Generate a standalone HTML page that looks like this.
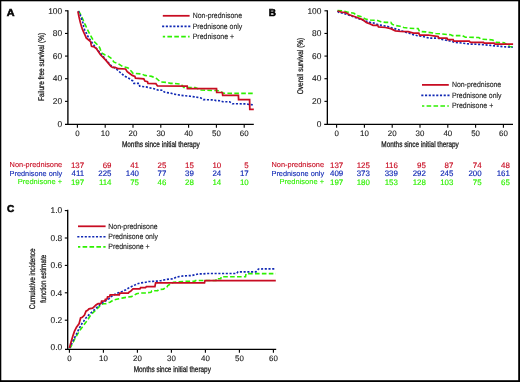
<!DOCTYPE html><html><head><meta charset="utf-8"><style>html,body{margin:0;padding:0;background:#fff;}svg{display:block;will-change:transform;text-rendering:geometricPrecision;}</style></head><body>
<svg width="520" height="382" viewBox="0 0 520 382" font-family='"Liberation Sans", sans-serif'>
<rect x="0" y="0" width="520" height="382" fill="#000"/>
<rect x="1.3" y="1.3" width="516.9" height="378.9" fill="#fff"/>
<text x="6.8" y="15.8" font-size="10" font-weight="bold" fill="#000" stroke="#000" stroke-width="0.55" textLength="7.8" lengthAdjust="spacingAndGlyphs">A</text>
<text x="268.8" y="15.9" font-size="10" font-weight="bold" fill="#000" stroke="#000" stroke-width="0.55">B</text>
<text x="6.9" y="212.4" font-size="10" font-weight="bold" fill="#000" stroke="#000" stroke-width="0.55">C</text>
<line x1="67.9" y1="10.3" x2="67.9" y2="124.89999999999999" stroke="#000" stroke-width="1.35"/>
<line x1="65.0" y1="10.800000000000011" x2="67.9" y2="10.800000000000011" stroke="#000" stroke-width="1.1"/>
<text x="62.2" y="13.55" font-size="8.4" fill="#1a1a1a" stroke="#1a1a1a" stroke-width="0.12" text-anchor="end">100</text>
<line x1="65.0" y1="33.44000000000001" x2="67.9" y2="33.44000000000001" stroke="#000" stroke-width="1.1"/>
<text x="62.2" y="36.19" font-size="8.4" fill="#1a1a1a" stroke="#1a1a1a" stroke-width="0.12" text-anchor="end">80</text>
<line x1="65.0" y1="56.08000000000001" x2="67.9" y2="56.08000000000001" stroke="#000" stroke-width="1.1"/>
<text x="62.2" y="58.83" font-size="8.4" fill="#1a1a1a" stroke="#1a1a1a" stroke-width="0.12" text-anchor="end">60</text>
<line x1="65.0" y1="78.72" x2="67.9" y2="78.72" stroke="#000" stroke-width="1.1"/>
<text x="62.2" y="81.47" font-size="8.4" fill="#1a1a1a" stroke="#1a1a1a" stroke-width="0.12" text-anchor="end">40</text>
<line x1="65.0" y1="101.36" x2="67.9" y2="101.36" stroke="#000" stroke-width="1.1"/>
<text x="62.2" y="104.11" font-size="8.4" fill="#1a1a1a" stroke="#1a1a1a" stroke-width="0.12" text-anchor="end">20</text>
<text x="62.2" y="126.75" font-size="8.4" fill="#1a1a1a" stroke="#1a1a1a" stroke-width="0.12" text-anchor="end">0</text>
<line x1="65.0" y1="124.3" x2="253.8" y2="124.3" stroke="#000" stroke-width="1.35"/>
<line x1="77.4" y1="124.3" x2="77.4" y2="127.8" stroke="#000" stroke-width="1.1"/>
<text x="77.4" y="136.4" font-size="7.9" fill="#1a1a1a" stroke="#1a1a1a" stroke-width="0.12" text-anchor="middle">0</text>
<line x1="105.2" y1="124.3" x2="105.2" y2="127.8" stroke="#000" stroke-width="1.1"/>
<text x="105.2" y="136.4" font-size="7.9" fill="#1a1a1a" stroke="#1a1a1a" stroke-width="0.12" text-anchor="middle">10</text>
<line x1="133.0" y1="124.3" x2="133.0" y2="127.8" stroke="#000" stroke-width="1.1"/>
<text x="133.0" y="136.4" font-size="7.9" fill="#1a1a1a" stroke="#1a1a1a" stroke-width="0.12" text-anchor="middle">20</text>
<line x1="160.8" y1="124.3" x2="160.8" y2="127.8" stroke="#000" stroke-width="1.1"/>
<text x="160.8" y="136.4" font-size="7.9" fill="#1a1a1a" stroke="#1a1a1a" stroke-width="0.12" text-anchor="middle">30</text>
<line x1="188.6" y1="124.3" x2="188.6" y2="127.8" stroke="#000" stroke-width="1.1"/>
<text x="188.6" y="136.4" font-size="7.9" fill="#1a1a1a" stroke="#1a1a1a" stroke-width="0.12" text-anchor="middle">40</text>
<line x1="216.4" y1="124.3" x2="216.4" y2="127.8" stroke="#000" stroke-width="1.1"/>
<text x="216.4" y="136.4" font-size="7.9" fill="#1a1a1a" stroke="#1a1a1a" stroke-width="0.12" text-anchor="middle">50</text>
<line x1="244.2" y1="124.3" x2="244.2" y2="127.8" stroke="#000" stroke-width="1.1"/>
<text x="244.2" y="136.4" font-size="7.9" fill="#1a1a1a" stroke="#1a1a1a" stroke-width="0.12" text-anchor="middle">60</text>
<text transform="translate(43.6,66.9) rotate(-90)" x="0" y="0" font-size="8.2" fill="#1a1a1a" stroke="#1a1a1a" stroke-width="0.28" text-anchor="middle" textLength="68" lengthAdjust="spacingAndGlyphs">Failure free survival (%)</text>
<text x="160.85" y="147" font-size="8.2" fill="#1a1a1a" stroke="#1a1a1a" stroke-width="0.28" text-anchor="middle" textLength="77.9" lengthAdjust="spacingAndGlyphs">Months since initial therapy</text>
<line x1="162.8" y1="15.8" x2="189.6" y2="15.8" stroke="#c80c22" stroke-width="1.75"/>
<line x1="162.1" y1="26.3" x2="190.4" y2="26.3" stroke="#1028b4" stroke-width="1.65" stroke-dasharray="2.1 1.63"/>
<line x1="162.8" y1="36.6" x2="189.6" y2="36.6" stroke="#2ef000" stroke-width="1.6" stroke-dasharray="4.6 2.3" stroke-dashoffset="2.3"/>
<text x="192.7" y="18.0" font-size="7.7" fill="#1a1a1a" stroke="#1a1a1a" stroke-width="0.12" textLength="49.3" lengthAdjust="spacingAndGlyphs">Non-prednisone</text>
<text x="192.7" y="28.5" font-size="7.7" fill="#1a1a1a" stroke="#1a1a1a" stroke-width="0.12" textLength="49.6" lengthAdjust="spacingAndGlyphs">Prednisone only</text>
<text x="192.7" y="38.8" font-size="7.7" fill="#1a1a1a" stroke="#1a1a1a" stroke-width="0.12" textLength="41.4" lengthAdjust="spacingAndGlyphs">Prednisone +</text>
<polyline points="78.4,11.0 79.7,12.9 80.9,14.8 82.8,19.2 84.7,23.6 85.9,26.1 88.1,31.0 91.2,36.7 93.7,41.1 96.9,44.2 99.7,47.6 101.5,52.8 104.7,54.8 107.8,55.9 110.9,58.0 114.1,62.2 118.3,63.7 122.5,66.4 126.6,67.4 128.1,68.0 131.8,71.7 132.9,73.3 141.8,74.0 144.9,75.4 151.7,76.4 156.4,78.5 160.6,82.0 166.3,82.4 170.5,83.4 174.7,83.4 180.9,84.1 183.7,87.5 195.2,87.6 201.0,90.0 212.5,90.5 217.3,90.5 221.2,92.0 223.3,93.3 253.8,93.4" fill="none" stroke="#2ef000" stroke-width="1.6" stroke-dasharray="4.6 2.3"/>
<polyline points="78.4,11.0 80.3,15.4 81.5,18.6 82.8,22.4 83.6,26.2 84.6,29.8 86.5,33.5 88.4,37.3 90.6,40.5 93.1,44.2 95.6,47.4 100.5,53.5 105.7,59.5 110.9,65.5 114.1,67.6 118.3,70.6 121.4,73.7 125.0,76.2 129.2,78.5 132.9,81.1 133.9,83.4 139.1,83.4 139.7,86.2 145.9,86.9 150.1,87.9 155.4,89.0 157.5,90.0 162.7,90.3 164.3,92.1 166.3,92.5 170.5,93.0 173.6,94.1 177.8,94.8 180.9,95.3 185.6,95.8 190.4,96.3 195.2,96.9 201.0,98.0 203.4,99.6 213.8,99.9 216.0,100.6 220.1,100.8 222.7,101.7 229.6,101.8 232.3,103.7 247.0,103.9 249.6,104.6 253.8,104.8" fill="none" stroke="#1028b4" stroke-width="1.65" stroke-dasharray="2.1 1.63"/>
<polyline points="77.9,11.3 79.0,16.7 80.3,22.4 81.5,26.5 82.4,29.1 84.0,32.9 85.5,36.1 86.2,37.9 88.1,39.5 90.6,41.7 91.2,44.9 91.6,46.3 94.3,47.0 96.3,48.6 100.5,54.8 105.7,60.1 110.9,66.4 112.5,67.4 115.1,67.4 118.3,68.7 125.6,69.0 127.2,71.6 129.7,73.5 132.3,75.4 134.9,76.4 135.5,78.2 143.8,78.8 144.9,81.1 147.5,81.7 148.0,83.4 155.9,83.7 157.5,85.9 187.2,86.2 187.4,88.7 216.5,88.7 216.7,92.3 222.4,92.5 222.7,95.3 238.4,95.4 238.6,99.7 249.6,99.7 249.8,109.3 253.8,109.3" fill="none" stroke="#c80c22" stroke-width="1.75" stroke-linejoin="miter"/>
<line x1="327.35" y1="10.3" x2="327.35" y2="124.89999999999999" stroke="#000" stroke-width="1.35"/>
<line x1="324.45000000000005" y1="10.800000000000011" x2="327.35" y2="10.800000000000011" stroke="#000" stroke-width="1.1"/>
<text x="321.4" y="13.55" font-size="8.4" fill="#1a1a1a" stroke="#1a1a1a" stroke-width="0.12" text-anchor="end">100</text>
<line x1="324.45000000000005" y1="33.44000000000001" x2="327.35" y2="33.44000000000001" stroke="#000" stroke-width="1.1"/>
<text x="321.4" y="36.19" font-size="8.4" fill="#1a1a1a" stroke="#1a1a1a" stroke-width="0.12" text-anchor="end">80</text>
<line x1="324.45000000000005" y1="56.08000000000001" x2="327.35" y2="56.08000000000001" stroke="#000" stroke-width="1.1"/>
<text x="321.4" y="58.83" font-size="8.4" fill="#1a1a1a" stroke="#1a1a1a" stroke-width="0.12" text-anchor="end">60</text>
<line x1="324.45000000000005" y1="78.72" x2="327.35" y2="78.72" stroke="#000" stroke-width="1.1"/>
<text x="321.4" y="81.47" font-size="8.4" fill="#1a1a1a" stroke="#1a1a1a" stroke-width="0.12" text-anchor="end">40</text>
<line x1="324.45000000000005" y1="101.36" x2="327.35" y2="101.36" stroke="#000" stroke-width="1.1"/>
<text x="321.4" y="104.11" font-size="8.4" fill="#1a1a1a" stroke="#1a1a1a" stroke-width="0.12" text-anchor="end">20</text>
<text x="321.4" y="126.75" font-size="8.4" fill="#1a1a1a" stroke="#1a1a1a" stroke-width="0.12" text-anchor="end">0</text>
<line x1="324.2" y1="124.3" x2="513.0" y2="124.3" stroke="#000" stroke-width="1.35"/>
<line x1="336.6" y1="124.3" x2="336.6" y2="127.8" stroke="#000" stroke-width="1.1"/>
<text x="336.6" y="136.4" font-size="7.9" fill="#1a1a1a" stroke="#1a1a1a" stroke-width="0.12" text-anchor="middle">0</text>
<line x1="364.4" y1="124.3" x2="364.4" y2="127.8" stroke="#000" stroke-width="1.1"/>
<text x="364.4" y="136.4" font-size="7.9" fill="#1a1a1a" stroke="#1a1a1a" stroke-width="0.12" text-anchor="middle">10</text>
<line x1="392.2" y1="124.3" x2="392.2" y2="127.8" stroke="#000" stroke-width="1.1"/>
<text x="392.2" y="136.4" font-size="7.9" fill="#1a1a1a" stroke="#1a1a1a" stroke-width="0.12" text-anchor="middle">20</text>
<line x1="420.0" y1="124.3" x2="420.0" y2="127.8" stroke="#000" stroke-width="1.1"/>
<text x="420.0" y="136.4" font-size="7.9" fill="#1a1a1a" stroke="#1a1a1a" stroke-width="0.12" text-anchor="middle">30</text>
<line x1="447.79999999999995" y1="124.3" x2="447.79999999999995" y2="127.8" stroke="#000" stroke-width="1.1"/>
<text x="447.79999999999995" y="136.4" font-size="7.9" fill="#1a1a1a" stroke="#1a1a1a" stroke-width="0.12" text-anchor="middle">40</text>
<line x1="475.6" y1="124.3" x2="475.6" y2="127.8" stroke="#000" stroke-width="1.1"/>
<text x="475.6" y="136.4" font-size="7.9" fill="#1a1a1a" stroke="#1a1a1a" stroke-width="0.12" text-anchor="middle">50</text>
<line x1="503.4" y1="124.3" x2="503.4" y2="127.8" stroke="#000" stroke-width="1.1"/>
<text x="503.4" y="136.4" font-size="7.9" fill="#1a1a1a" stroke="#1a1a1a" stroke-width="0.12" text-anchor="middle">60</text>
<text transform="translate(302.8,66.0) rotate(-90)" x="0" y="0" font-size="8.2" fill="#1a1a1a" stroke="#1a1a1a" stroke-width="0.28" text-anchor="middle" textLength="56.6" lengthAdjust="spacingAndGlyphs">Overall survival (%)</text>
<text x="420.05" y="147" font-size="8.2" fill="#1a1a1a" stroke="#1a1a1a" stroke-width="0.28" text-anchor="middle" textLength="77.5" lengthAdjust="spacingAndGlyphs">Months since initial therapy</text>
<line x1="422.0" y1="84.9" x2="448.79999999999995" y2="84.9" stroke="#c80c22" stroke-width="1.75"/>
<line x1="421.3" y1="95.4" x2="449.6" y2="95.4" stroke="#1028b4" stroke-width="1.65" stroke-dasharray="2.1 1.63"/>
<line x1="422.0" y1="106.0" x2="448.79999999999995" y2="106.0" stroke="#2ef000" stroke-width="1.6" stroke-dasharray="4.6 2.3" stroke-dashoffset="2.3"/>
<text x="451.9" y="87.1" font-size="7.7" fill="#1a1a1a" stroke="#1a1a1a" stroke-width="0.12" textLength="49.3" lengthAdjust="spacingAndGlyphs">Non-prednisone</text>
<text x="451.9" y="97.6" font-size="7.7" fill="#1a1a1a" stroke="#1a1a1a" stroke-width="0.12" textLength="49.6" lengthAdjust="spacingAndGlyphs">Prednisone only</text>
<text x="451.9" y="108.2" font-size="7.7" fill="#1a1a1a" stroke="#1a1a1a" stroke-width="0.12" textLength="41.4" lengthAdjust="spacingAndGlyphs">Prednisone +</text>
<polyline points="337.5,10.6 343.2,11.0 347.8,12.2 354.0,13.3 357.1,15.6 361.7,16.8 365.5,19.1 370.5,20.0 373.8,20.3 377.7,20.5 380.8,21.7 385.4,22.4 390.8,22.4 392.3,24.4 395.4,25.5 400.0,26.2 403.8,27.5 408.5,28.2 418.1,28.6 419.6,31.5 425.8,31.9 428.1,32.3 435.8,33.5 441.2,33.9 450.8,34.8 452.3,35.6 462.3,35.6 465.4,37.2 478.8,37.5 481.2,39.2 488.8,39.6 492.7,40.0 495.8,42.3 504.2,42.7 509.6,46.5 513.1,46.9" fill="none" stroke="#2ef000" stroke-width="1.6" stroke-dasharray="4.6 2.3"/>
<polyline points="337.5,11.2 338.6,12.2 343.2,13.3 347.1,14.5 352.0,16.3 358.6,18.7 364.0,20.5 370.1,22.4 374.6,23.2 378.5,24.8 382.3,25.5 386.9,26.3 391.5,27.8 394.6,28.6 398.5,29.8 404.8,32.0 409.4,33.3 414.2,35.0 418.1,35.8 421.9,36.2 425.8,37.3 429.6,38.1 438.1,38.1 442.1,39.4 446.2,40.2 450.0,41.0 454.6,42.2 462.3,43.1 466.9,43.7 470.8,44.1 478.0,44.3 482.7,44.6 490.4,45.4 495.8,45.9 505.8,46.9 512.7,47.3" fill="none" stroke="#1028b4" stroke-width="1.65" stroke-dasharray="2.1 1.63"/>
<polyline points="337.5,11.0 340.9,12.0 345.5,12.6 349.4,14.8 357.1,17.5 362.5,19.6 366.3,22.5 368.6,23.3 373.1,25.3 377.7,25.4 378.5,26.9 385.4,27.5 390.8,28.6 395.4,30.9 400.8,31.5 408.1,31.6 413.5,33.2 418.8,33.2 419.6,35.0 428.1,35.0 433.5,35.8 438.1,36.5 438.8,38.1 446.9,38.1 447.7,39.7 453.1,39.7 453.8,41.2 469.2,41.2 470.4,42.4 483.5,42.4 484.2,43.1 494.2,43.1 495.0,44.2 513.1,44.2" fill="none" stroke="#c80c22" stroke-width="1.75" stroke-linejoin="miter"/>
<text x="62.2" y="167.0" font-size="7.3" fill="#c80c22" stroke="#c80c22" stroke-width="0.1" text-anchor="end" textLength="52.6" lengthAdjust="spacingAndGlyphs">Non-prednisone</text>
<text x="84.1" y="167.7" font-size="7.9" fill="#c80c22" stroke="#c80c22" stroke-width="0.15" text-anchor="end">137</text>
<text x="111.5" y="167.7" font-size="7.9" fill="#c80c22" stroke="#c80c22" stroke-width="0.15" text-anchor="end">69</text>
<text x="139.0" y="167.7" font-size="7.9" fill="#c80c22" stroke="#c80c22" stroke-width="0.15" text-anchor="end">41</text>
<text x="166.4" y="167.7" font-size="7.9" fill="#c80c22" stroke="#c80c22" stroke-width="0.15" text-anchor="end">25</text>
<text x="193.8" y="167.7" font-size="7.9" fill="#c80c22" stroke="#c80c22" stroke-width="0.15" text-anchor="end">15</text>
<text x="221.2" y="167.7" font-size="7.9" fill="#c80c22" stroke="#c80c22" stroke-width="0.15" text-anchor="end">10</text>
<text x="248.7" y="167.7" font-size="7.9" fill="#c80c22" stroke="#c80c22" stroke-width="0.15" text-anchor="end">5</text>
<text x="62.2" y="175.6" font-size="7.3" fill="#1028b4" stroke="#1028b4" stroke-width="0.1" text-anchor="end" textLength="52.6" lengthAdjust="spacingAndGlyphs">Prednisone only</text>
<text x="84.1" y="176.3" font-size="7.9" fill="#1028b4" stroke="#1028b4" stroke-width="0.15" text-anchor="end">411</text>
<text x="111.5" y="176.3" font-size="7.9" fill="#1028b4" stroke="#1028b4" stroke-width="0.15" text-anchor="end">225</text>
<text x="139.0" y="176.3" font-size="7.9" fill="#1028b4" stroke="#1028b4" stroke-width="0.15" text-anchor="end">140</text>
<text x="166.4" y="176.3" font-size="7.9" fill="#1028b4" stroke="#1028b4" stroke-width="0.15" text-anchor="end">77</text>
<text x="193.8" y="176.3" font-size="7.9" fill="#1028b4" stroke="#1028b4" stroke-width="0.15" text-anchor="end">39</text>
<text x="221.2" y="176.3" font-size="7.9" fill="#1028b4" stroke="#1028b4" stroke-width="0.15" text-anchor="end">24</text>
<text x="248.7" y="176.3" font-size="7.9" fill="#1028b4" stroke="#1028b4" stroke-width="0.15" text-anchor="end">17</text>
<text x="62.2" y="184.0" font-size="7.3" fill="#2ef000" stroke="#2ef000" stroke-width="0.1" text-anchor="end" textLength="44.5" lengthAdjust="spacingAndGlyphs">Prednisone +</text>
<text x="84.1" y="184.8" font-size="7.9" fill="#2ef000" stroke="#2ef000" stroke-width="0.15" text-anchor="end">197</text>
<text x="111.5" y="184.8" font-size="7.9" fill="#2ef000" stroke="#2ef000" stroke-width="0.15" text-anchor="end">114</text>
<text x="139.0" y="184.8" font-size="7.9" fill="#2ef000" stroke="#2ef000" stroke-width="0.15" text-anchor="end">75</text>
<text x="166.4" y="184.8" font-size="7.9" fill="#2ef000" stroke="#2ef000" stroke-width="0.15" text-anchor="end">46</text>
<text x="193.8" y="184.8" font-size="7.9" fill="#2ef000" stroke="#2ef000" stroke-width="0.15" text-anchor="end">28</text>
<text x="221.2" y="184.8" font-size="7.9" fill="#2ef000" stroke="#2ef000" stroke-width="0.15" text-anchor="end">14</text>
<text x="248.7" y="184.8" font-size="7.9" fill="#2ef000" stroke="#2ef000" stroke-width="0.15" text-anchor="end">10</text>
<text x="324.1" y="167.0" font-size="7.3" fill="#c80c22" stroke="#c80c22" stroke-width="0.1" text-anchor="end" textLength="52.6" lengthAdjust="spacingAndGlyphs">Non-prednisone</text>
<text x="343.2" y="167.7" font-size="7.9" fill="#c80c22" stroke="#c80c22" stroke-width="0.15" text-anchor="end">137</text>
<text x="369.8" y="167.7" font-size="7.9" fill="#c80c22" stroke="#c80c22" stroke-width="0.15" text-anchor="end">125</text>
<text x="397.8" y="167.7" font-size="7.9" fill="#c80c22" stroke="#c80c22" stroke-width="0.15" text-anchor="end">116</text>
<text x="425.9" y="167.7" font-size="7.9" fill="#c80c22" stroke="#c80c22" stroke-width="0.15" text-anchor="end">95</text>
<text x="453.4" y="167.7" font-size="7.9" fill="#c80c22" stroke="#c80c22" stroke-width="0.15" text-anchor="end">87</text>
<text x="481.6" y="167.7" font-size="7.9" fill="#c80c22" stroke="#c80c22" stroke-width="0.15" text-anchor="end">74</text>
<text x="509.8" y="167.7" font-size="7.9" fill="#c80c22" stroke="#c80c22" stroke-width="0.15" text-anchor="end">48</text>
<text x="324.1" y="175.6" font-size="7.3" fill="#1028b4" stroke="#1028b4" stroke-width="0.1" text-anchor="end" textLength="52.6" lengthAdjust="spacingAndGlyphs">Prednisone only</text>
<text x="343.2" y="176.3" font-size="7.9" fill="#1028b4" stroke="#1028b4" stroke-width="0.15" text-anchor="end">409</text>
<text x="369.8" y="176.3" font-size="7.9" fill="#1028b4" stroke="#1028b4" stroke-width="0.15" text-anchor="end">373</text>
<text x="397.8" y="176.3" font-size="7.9" fill="#1028b4" stroke="#1028b4" stroke-width="0.15" text-anchor="end">339</text>
<text x="425.9" y="176.3" font-size="7.9" fill="#1028b4" stroke="#1028b4" stroke-width="0.15" text-anchor="end">292</text>
<text x="453.4" y="176.3" font-size="7.9" fill="#1028b4" stroke="#1028b4" stroke-width="0.15" text-anchor="end">245</text>
<text x="481.6" y="176.3" font-size="7.9" fill="#1028b4" stroke="#1028b4" stroke-width="0.15" text-anchor="end">200</text>
<text x="509.8" y="176.3" font-size="7.9" fill="#1028b4" stroke="#1028b4" stroke-width="0.15" text-anchor="end">161</text>
<text x="324.1" y="184.0" font-size="7.3" fill="#2ef000" stroke="#2ef000" stroke-width="0.1" text-anchor="end" textLength="44.5" lengthAdjust="spacingAndGlyphs">Prednisone +</text>
<text x="343.2" y="184.8" font-size="7.9" fill="#2ef000" stroke="#2ef000" stroke-width="0.15" text-anchor="end">197</text>
<text x="369.8" y="184.8" font-size="7.9" fill="#2ef000" stroke="#2ef000" stroke-width="0.15" text-anchor="end">180</text>
<text x="397.8" y="184.8" font-size="7.9" fill="#2ef000" stroke="#2ef000" stroke-width="0.15" text-anchor="end">153</text>
<text x="425.9" y="184.8" font-size="7.9" fill="#2ef000" stroke="#2ef000" stroke-width="0.15" text-anchor="end">128</text>
<text x="453.4" y="184.8" font-size="7.9" fill="#2ef000" stroke="#2ef000" stroke-width="0.15" text-anchor="end">103</text>
<text x="481.6" y="184.8" font-size="7.9" fill="#2ef000" stroke="#2ef000" stroke-width="0.15" text-anchor="end">75</text>
<text x="509.8" y="184.8" font-size="7.9" fill="#2ef000" stroke="#2ef000" stroke-width="0.15" text-anchor="end">65</text>
<line x1="67.7" y1="209.8" x2="67.7" y2="349.90000000000003" stroke="#000" stroke-width="1.35"/>
<line x1="64.8" y1="210.60000000000002" x2="67.7" y2="210.60000000000002" stroke="#000" stroke-width="1.1"/>
<text x="62.2" y="213.35" font-size="8.4" fill="#1a1a1a" stroke="#1a1a1a" stroke-width="0.12" text-anchor="end">1.0</text>
<line x1="64.8" y1="238.0" x2="67.7" y2="238.0" stroke="#000" stroke-width="1.1"/>
<text x="62.2" y="240.75" font-size="8.4" fill="#1a1a1a" stroke="#1a1a1a" stroke-width="0.12" text-anchor="end">0.8</text>
<line x1="64.8" y1="265.40000000000003" x2="67.7" y2="265.40000000000003" stroke="#000" stroke-width="1.1"/>
<text x="62.2" y="268.15" font-size="8.4" fill="#1a1a1a" stroke="#1a1a1a" stroke-width="0.12" text-anchor="end">0.6</text>
<line x1="64.8" y1="292.8" x2="67.7" y2="292.8" stroke="#000" stroke-width="1.1"/>
<text x="62.2" y="295.55" font-size="8.4" fill="#1a1a1a" stroke="#1a1a1a" stroke-width="0.12" text-anchor="end">0.4</text>
<line x1="64.8" y1="320.20000000000005" x2="67.7" y2="320.20000000000005" stroke="#000" stroke-width="1.1"/>
<text x="62.2" y="322.95" font-size="8.4" fill="#1a1a1a" stroke="#1a1a1a" stroke-width="0.12" text-anchor="end">0.2</text>
<text x="62.2" y="350.35" font-size="8.4" fill="#1a1a1a" stroke="#1a1a1a" stroke-width="0.12" text-anchor="end">0.0</text>
<line x1="65.0" y1="349.3" x2="276.2" y2="349.3" stroke="#000" stroke-width="1.35"/>
<line x1="69.4" y1="349.3" x2="69.4" y2="352.8" stroke="#000" stroke-width="1.1"/>
<text x="69.4" y="361.4" font-size="7.9" fill="#1a1a1a" stroke="#1a1a1a" stroke-width="0.12" text-anchor="middle">0</text>
<line x1="103.4" y1="349.3" x2="103.4" y2="352.8" stroke="#000" stroke-width="1.1"/>
<text x="103.4" y="361.4" font-size="7.9" fill="#1a1a1a" stroke="#1a1a1a" stroke-width="0.12" text-anchor="middle">10</text>
<line x1="137.4" y1="349.3" x2="137.4" y2="352.8" stroke="#000" stroke-width="1.1"/>
<text x="137.4" y="361.4" font-size="7.9" fill="#1a1a1a" stroke="#1a1a1a" stroke-width="0.12" text-anchor="middle">20</text>
<line x1="171.4" y1="349.3" x2="171.4" y2="352.8" stroke="#000" stroke-width="1.1"/>
<text x="171.4" y="361.4" font-size="7.9" fill="#1a1a1a" stroke="#1a1a1a" stroke-width="0.12" text-anchor="middle">30</text>
<line x1="205.4" y1="349.3" x2="205.4" y2="352.8" stroke="#000" stroke-width="1.1"/>
<text x="205.4" y="361.4" font-size="7.9" fill="#1a1a1a" stroke="#1a1a1a" stroke-width="0.12" text-anchor="middle">40</text>
<line x1="239.4" y1="349.3" x2="239.4" y2="352.8" stroke="#000" stroke-width="1.1"/>
<text x="239.4" y="361.4" font-size="7.9" fill="#1a1a1a" stroke="#1a1a1a" stroke-width="0.12" text-anchor="middle">50</text>
<line x1="273.4" y1="349.3" x2="273.4" y2="352.8" stroke="#000" stroke-width="1.1"/>
<text x="273.4" y="361.4" font-size="7.9" fill="#1a1a1a" stroke="#1a1a1a" stroke-width="0.12" text-anchor="middle">60</text>
<text transform="translate(34.6,278.8) rotate(-90)" x="0" y="0" font-size="8.2" fill="#1a1a1a" stroke="#1a1a1a" stroke-width="0.28" text-anchor="middle" textLength="60.7" lengthAdjust="spacingAndGlyphs">Cumulative incidence</text>
<text transform="translate(46.1,278.8) rotate(-90)" x="0" y="0" font-size="8.2" fill="#1a1a1a" stroke="#1a1a1a" stroke-width="0.28" text-anchor="middle" textLength="48.1" lengthAdjust="spacingAndGlyphs">function estimate</text>
<text x="172.3" y="372.2" font-size="8.2" fill="#1a1a1a" stroke="#1a1a1a" stroke-width="0.28" text-anchor="middle" textLength="77.2" lengthAdjust="spacingAndGlyphs">Months since initial therapy</text>
<line x1="78.0" y1="226.3" x2="105.6" y2="226.3" stroke="#c80c22" stroke-width="1.75"/>
<line x1="77.3" y1="236.7" x2="106.4" y2="236.7" stroke="#1028b4" stroke-width="1.65" stroke-dasharray="2.1 1.63"/>
<line x1="78.0" y1="246.9" x2="105.6" y2="246.9" stroke="#2ef000" stroke-width="1.6" stroke-dasharray="4.6 2.3" stroke-dashoffset="2.3"/>
<text x="108.3" y="228.5" font-size="7.7" fill="#1a1a1a" stroke="#1a1a1a" stroke-width="0.12" textLength="49.3" lengthAdjust="spacingAndGlyphs">Non-prednisone</text>
<text x="108.3" y="238.9" font-size="7.7" fill="#1a1a1a" stroke="#1a1a1a" stroke-width="0.12" textLength="49.6" lengthAdjust="spacingAndGlyphs">Prednisone only</text>
<text x="108.3" y="249.1" font-size="7.7" fill="#1a1a1a" stroke="#1a1a1a" stroke-width="0.12" textLength="41.4" lengthAdjust="spacingAndGlyphs">Prednisone +</text>
<polyline points="69.4,348.0 70.6,347.3 73.1,342.3 75.2,338.1 77.7,333.9 80.3,329.7 82.8,326.4 85.3,323.0 87.8,319.7 91.0,314.6 94.9,310.9 99.2,306.6 101.2,304.4 103.6,303.7 106.0,303.6 108.3,302.6 110.0,302.2 113.6,299.9 117.8,299.0 123.1,297.9 127.5,297.1 131.4,296.6 133.5,295.6 136.6,293.8 139.9,293.1 145.5,292.9 151.0,292.3 151.8,290.9 157.6,290.6 159.0,289.4 163.4,289.2 165.2,287.7 166.8,287.5 167.8,285.5 170.3,284.1 173.4,282.2 178.9,281.7 184.0,281.4 194.8,281.4 195.3,280.5 215.9,280.5 216.1,278.7 220.8,278.7 221.2,276.8 245.5,276.8 246.0,273.6 275.8,273.6" fill="none" stroke="#2ef000" stroke-width="1.6" stroke-dasharray="4.6 2.3"/>
<polyline points="69.4,348.0 70.2,346.9 72.3,342.3 74.4,338.1 76.1,334.8 77.7,331.4 79.4,328.1 81.5,324.3 83.6,321.4 85.5,318.4 88.6,315.1 91.8,312.1 94.5,309.7 97.3,307.0 100.4,304.2 103.6,301.9 106.7,300.3 109.1,298.7 110.5,297.0 114.5,294.6 117.9,293.0 122.1,291.6 125.9,289.7 129.4,287.5 133.0,285.9 136.8,284.0 140.4,283.0 144.6,282.5 148.8,281.5 152.9,281.4 156.9,281.1 161.1,280.6 165.1,279.7 169.0,279.1 173.2,278.8 176.7,277.0 180.8,276.3 183.6,275.9 192.0,275.5 195.8,274.6 198.6,273.9 203.0,273.9 207.1,273.5 236.7,273.5 238.0,271.8 255.9,271.8 258.5,269.0 275.8,268.8" fill="none" stroke="#1028b4" stroke-width="1.65" stroke-dasharray="2.1 1.63"/>
<polyline points="69.4,348.0 71.0,342.3 72.7,336.4 74.4,331.4 76.5,327.2 79.0,323.9 80.2,319.5 80.6,318.0 82.3,317.3 84.5,315.0 86.0,311.2 87.6,310.4 89.0,308.8 92.6,308.2 94.0,306.9 96.2,304.8 98.2,303.7 101.0,303.4 101.6,301.2 104.8,301.0 105.4,299.2 107.0,299.0 107.6,296.8 109.6,296.6 110.2,294.8 119.3,294.8 119.8,293.2 128.3,293.2 129.2,292.0 130.6,291.3 132.0,289.9 133.0,288.9 139.9,288.9 140.6,287.7 145.5,287.7 146.3,286.7 154.9,286.7 155.6,282.9 204.5,282.9 205.0,280.6 275.8,280.6" fill="none" stroke="#c80c22" stroke-width="1.75" stroke-linejoin="miter"/>
</svg></body></html>
